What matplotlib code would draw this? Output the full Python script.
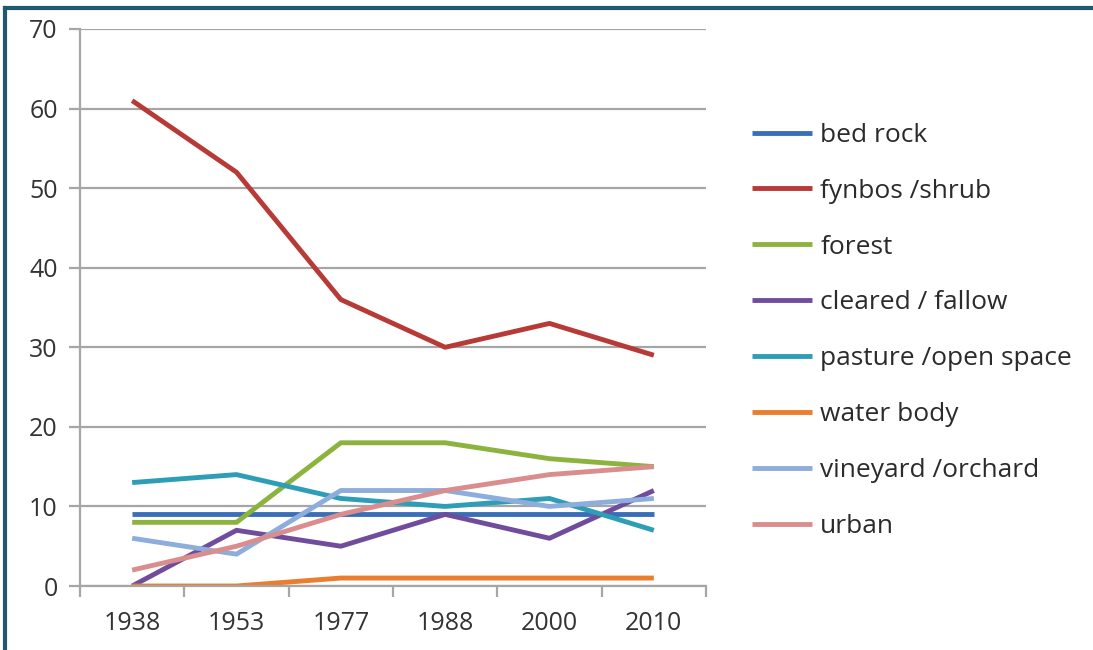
import numpy as np
import matplotlib.pyplot as plt
from matplotlib.lines import Line2D

plt.rcParams['font.family'] = ['Open Sans', 'DejaVu Sans']

years = ["1938", "1953", "1977", "1988", "2000", "2010"]

bed_rock = [9, 9, 9, 9, 9, 9]
fynbos = [61, 52, 36, 30, 33, 29]
forest = [8, 8, 18, 18, 16, 15]
cleared = [0, 7, 5, 9, 6, 12]
pasture = [13, 14, 11, 10, 11, 7]
water = [0, 0, 1, 1, 1, 1]
vineyard = [6, 4, 12, 12, 10, 11]
urban = [2, 5, 9, 12, 14, 15]

series = [
    ("bed rock", bed_rock, "#3A6FB8"),
    ("fynbos /shrub", fynbos, "#B83A36"),
    ("forest", forest, "#8DB33F"),
    ("cleared / fallow", cleared, "#6F4D9C"),
    ("pasture /open space", pasture, "#2E9DB6"),
    ("water body", water, "#EB7D2E"),
    ("vineyard /orchard", vineyard, "#8DADDC"),
    ("urban", urban, "#D98E8D"),
]

W, H = 1093, 650
fig = plt.figure(figsize=(W / 100, H / 100), dpi=100)
ax = fig.add_axes([80 / W, 1 - 586 / H, (706 - 80) / W, (586 - 29) / H])

x = np.arange(len(years))
for label, values, color in series:
    ax.plot(x, values, color=color, lw=3.5, label=label, solid_capstyle="butt")

ax.set_xlim(-0.5, len(years) - 0.5)
ax.set_ylim(0, 70)
ax.set_yticks(np.arange(0, 71, 10))
ax.set_xticks(x)
ax.set_xticklabels(years)
ax.set_xticks(np.arange(-0.5, len(years), 1), minor=True)

grid_c = "#A6A6A6"
ax.yaxis.grid(True, color=grid_c, lw=1.6)
ax.set_axisbelow(True)
for side in ["top", "right"]:
    ax.spines[side].set_visible(False)
for side in ["left", "bottom"]:
    ax.spines[side].set_color(grid_c)
    ax.spines[side].set_linewidth(1.6)

ax.tick_params(axis="y", length=8, width=1.6, color=grid_c, pad=8,
               labelsize=18, labelcolor="#333333")
ax.tick_params(axis="x", which="major", length=0, pad=18,
               labelsize=18, labelcolor="#333333")
ax.tick_params(axis="x", which="minor", length=8, width=1.6, color=grid_c)

fig.legend(loc="upper left", bbox_to_anchor=(728 / W, 1 - 99 / H),
           frameon=False, fontsize=19, handlelength=2.3, handletextpad=0.3,
           labelspacing=1.17, labelcolor="#2b2b2b")

# frame on the left and top edges
border = "#22586B"
fig.add_artist(Line2D([5 / W, 5 / W], [0, 1 - 8 / H], transform=fig.transFigure,
                      color=border, lw=3))
fig.add_artist(Line2D([5 / W, 1], [1 - 8 / H, 1 - 8 / H], transform=fig.transFigure,
                      color=border, lw=3))

fig.savefig("out.png", dpi=100)
